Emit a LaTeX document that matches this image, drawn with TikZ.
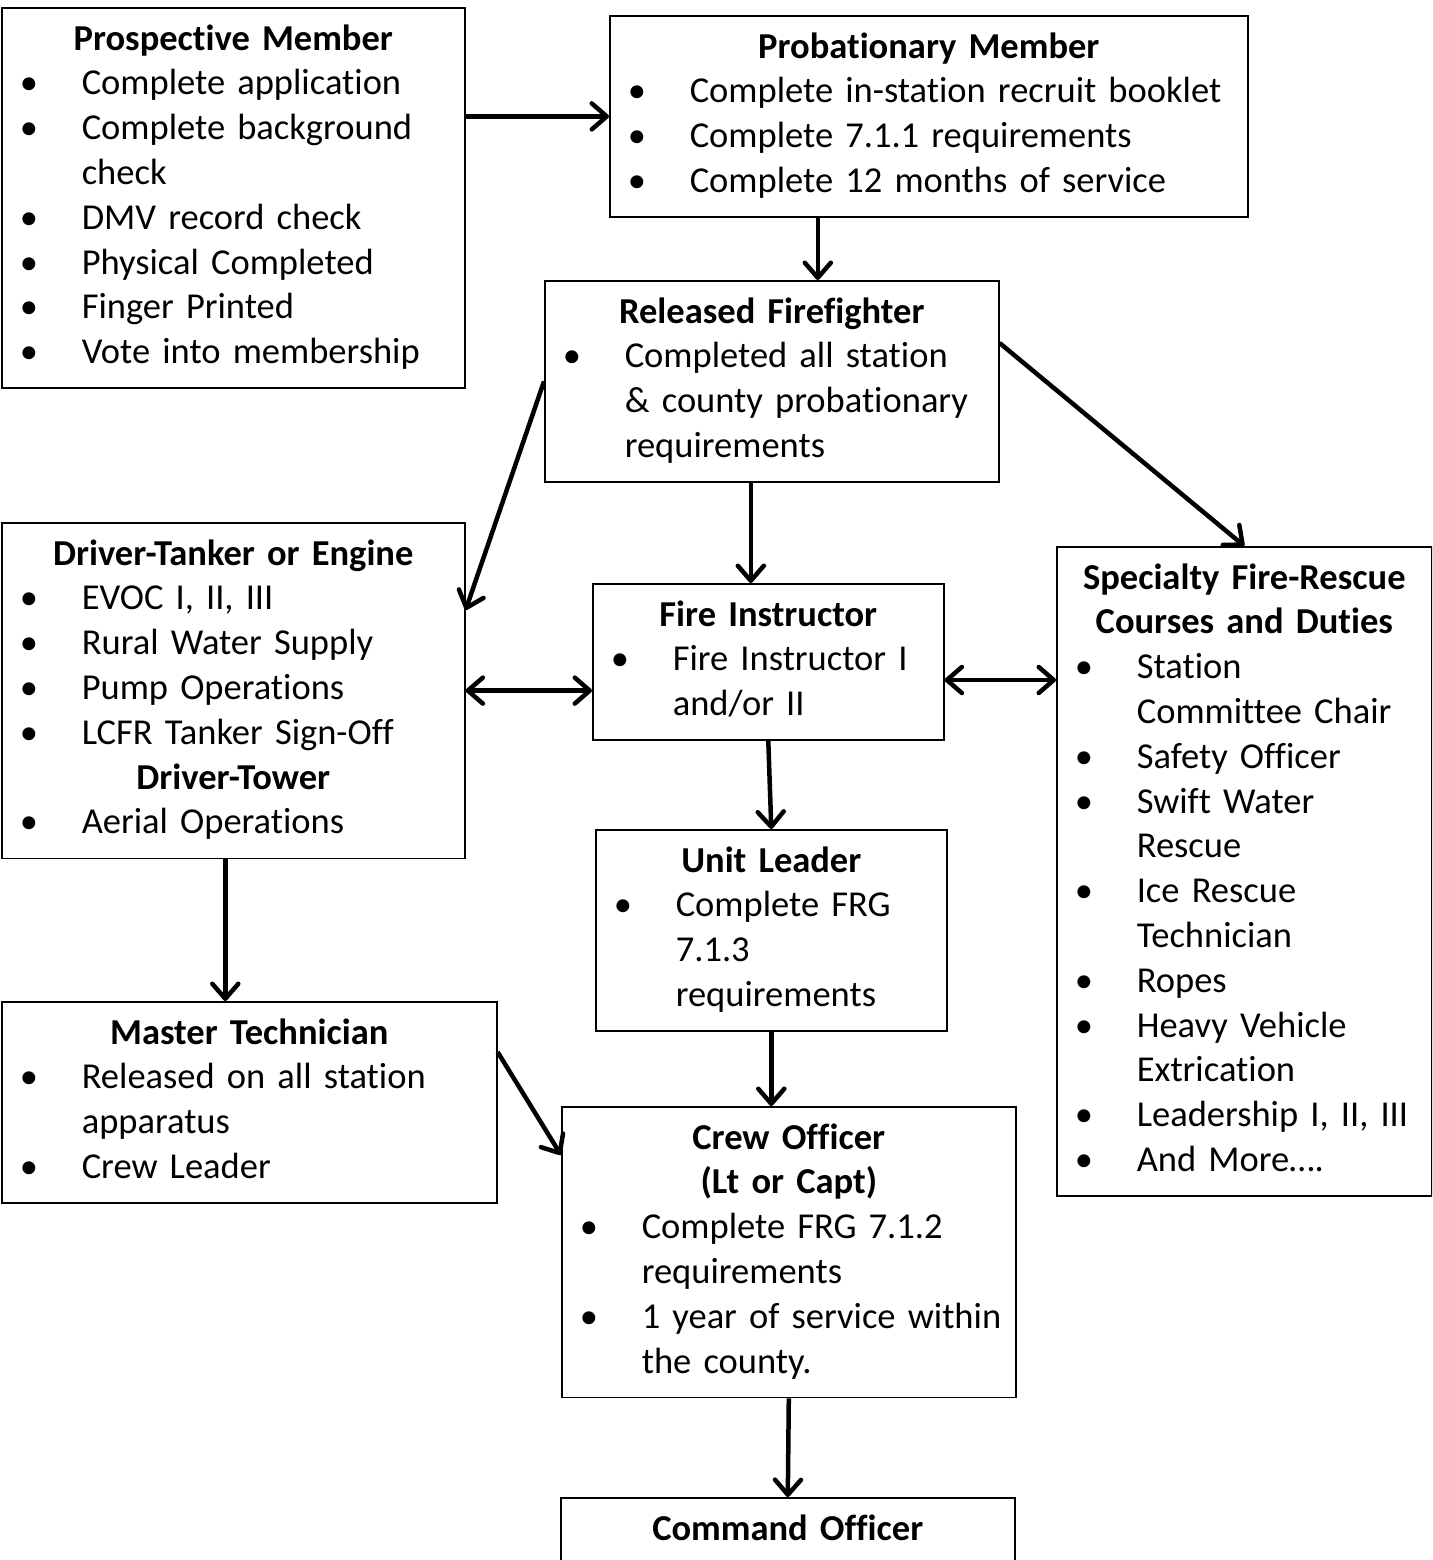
\documentclass[tikz,border=0pt]{standalone}
\usepackage{fontspec}
\setmainfont{Carlito}[Ligatures=NoCommon]
\usetikzlibrary{arrows.meta}
\setlength{\parindent}{0pt}

\newcommand{\ttl}[1]{{\centering\bfseries\strut#1\strut\par}}
\newcommand{\itm}[1]{\par\noindent\hangindent=80pt\hangafter=1\makebox[80pt][l]{\hspace{18pt}\textbullet}\strut#1\strut\par}

\begin{document}
\begin{tikzpicture}[x=1pt, y=-1pt,
		box/.style={draw, line width=1.6pt, anchor=north west, inner xsep=0pt, inner ysep=11pt, font=\fontsize{36.5}{44.8}\selectfont\raggedright},
		arr/.style={line width=4.5pt, -{Straight Barb[length=15pt,width=26pt,round]}},
		arrtwo/.style={line width=4.5pt, {Straight Barb[length=15pt,width=26pt,round]}-{Straight Barb[length=15pt,width=26pt,round]}}]
		\useasboundingbox (0,0) rectangle (1432,1560);
		\clip (0,0) rectangle (1432,1560);

		\node[box, text width=463pt] (pm) at (1,7) {\ttl{Prospective Member}\itm{Complete application}\itm{Complete background\newline check}\itm{DMV record check}\itm{Physical Completed}\itm{Finger Printed}\itm{Vote into membership}};
		\node[box, text width=638pt] (prob) at (609,15) {\ttl{Probationary Member}\itm{Complete in-station recruit booklet}\itm{Complete 7.1.1 requirements}\itm{Complete 12 months of service}};
		\node[box, text width=454pt] (rel) at (544,280) {\ttl{Released Firefighter}\itm{Completed all station\newline \& county probationary\newline requirements}};
		\node[box, text width=463pt] (drv) at (1,522) {\ttl{Driver-Tanker or Engine}\itm{EVOC I, II, III}\itm{Rural Water Supply}\itm{Pump Operations}\itm{LCFR Tanker Sign-Off}\ttl{Driver-Tower}\itm{Aerial Operations}};
		\node[box, text width=351pt] (fi) at (592,583) {\ttl{Fire Instructor}\itm{Fire Instructor I\newline and/or II}};
		\node[box, text width=375pt] (spec) at (1056,546) {\ttl{Specialty Fire-Rescue}\ttl{Courses and Duties}\itm{Station\newline Committee Chair}\itm{Safety Officer}\itm{Swift Water\newline Rescue}\itm{Ice Rescue\newline Technician}\itm{Ropes}\itm{Heavy Vehicle\newline Extrication}\itm{Leadership I, II, III}\itm{And More….}};
		\node[box, text width=351pt] (ul) at (595,829) {\ttl{Unit Leader}\itm{Complete FRG\newline 7.1.3\newline requirements}};
		\node[box, text width=495pt] (mt) at (1,1001) {\ttl{Master Technician}\itm{Released on all station\newline apparatus}\itm{Crew Leader}};
		\node[box, text width=454pt] (co) at (561,1106) {\ttl{Crew Officer}\ttl{(Lt or Capt)}\itm{Complete FRG 7.1.2\newline requirements}\itm{1 year of service within\newline the county.}};
		\node[box, text width=454pt] (cmd) at (560,1497) {\ttl{Command Officer}\strut\par};

		\coordinate (a1) at ([xshift=46pt]rel.north);
		\coordinate (a2) at ([xshift=-21pt]rel.south);
		\coordinate (a3) at ([yshift=-18pt]fi.east);
		\coordinate (a4) at ([xshift=-8pt]drv.south);

		\draw[arr] (pm.east |- prob.west) -- (prob.west);
		\draw[arr] (a1 |- prob.south) -- (a1);
		\draw[arr] (rel.west) -- ([yshift=-88pt]drv.north east);
		\draw[arr] ([yshift=-63pt]rel.north east) -- (spec.north);
		\draw[arr] (a2) -- (a2 |- fi.north);
		\draw[arrtwo] (drv.east) -- (drv.east -| fi.west);
		\draw[arrtwo] (a3) -- (a3 -| spec.west);
		\draw[arr] (fi.south) -- (ul.north);
		\draw[arr] (a4) -- (a4 |- mt.north);
		\draw[arr] (ul.south) -- (ul.south |- co.north);
		\draw[arr] ([yshift=-51pt]mt.north east) -- ([yshift=-49pt]co.north west);
		\draw[arr] (co.south) -- (cmd.north);
	\end{tikzpicture}
\end{document}
